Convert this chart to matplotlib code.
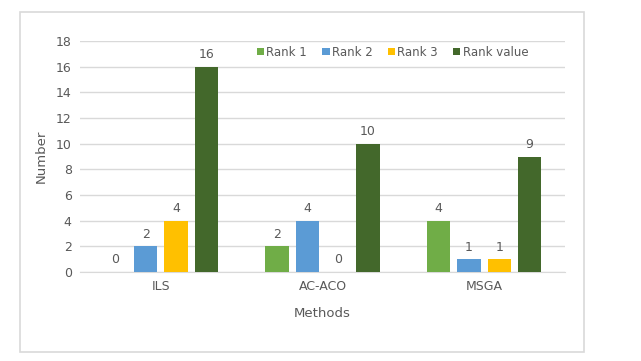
import numpy as np
import matplotlib.pyplot as plt
from matplotlib.patches import Rectangle

methods = ["ILS", "AC-ACO", "MSGA"]
rank1 = [0, 2, 4]
rank2 = [2, 4, 1]
rank3 = [4, 0, 1]
rank_value = [16, 10, 9]

series = [
    ("Rank 1", rank1, "#70AD47"),
    ("Rank 2", rank2, "#5B9BD5"),
    ("Rank 3", rank3, "#FFC000"),
    ("Rank value", rank_value, "#43682B"),
]

text_color = "#595959"
grid_color = "#D9D9D9"

fig = plt.figure(figsize=(6.41, 3.61), dpi=100)
fig.patches.append(Rectangle((20 / 641, 1 - 352 / 361), 564 / 641, 340 / 361,
                             transform=fig.transFigure, fill=False,
                             edgecolor=grid_color, linewidth=1.2))
ax = fig.add_axes([80 / 641, 1 - 272 / 361, 485 / 641, 231 / 361])

x = np.arange(len(methods))
pitch = 0.1875
width = 0.144
for i, (name, vals, color) in enumerate(series):
    pos = x + (i - 1.5) * pitch
    bars = ax.bar(pos, vals, width, color=color, label=name, zorder=3)
    for b, v in zip(bars, vals):
        ax.annotate(str(v), (b.get_x() + b.get_width() / 2, v),
                    xytext=(0, 4), textcoords="offset points",
                    ha="center", va="bottom", fontsize=9, color=text_color)

ax.set_xlim(-0.5, 2.5)
ax.set_ylim(0, 18)
ax.set_yticks(range(0, 19, 2))
ax.set_xticks(x)
ax.set_xticklabels(methods)
ax.yaxis.grid(True, color=grid_color, linewidth=1, zorder=0)
for s in ["top", "right", "left"]:
    ax.spines[s].set_visible(False)
ax.spines["bottom"].set_color(grid_color)
ax.tick_params(length=0, labelsize=9, colors=text_color, pad=6)
ax.set_xlabel("Methods", fontsize=9.5, color=text_color, labelpad=10)
ax.set_ylabel("Number", fontsize=9.5, color=text_color, labelpad=6)

leg = ax.legend(loc="upper left", bbox_to_anchor=(0.355, 1.0), ncol=4,
                frameon=False, fontsize=8.5, handlelength=0.6, handleheight=0.6,
                handletextpad=0.2, columnspacing=1.3, borderaxespad=0.2,
                borderpad=0.2)
for t in leg.get_texts():
    t.set_color(text_color)

fig.savefig("out.png", dpi=100)
